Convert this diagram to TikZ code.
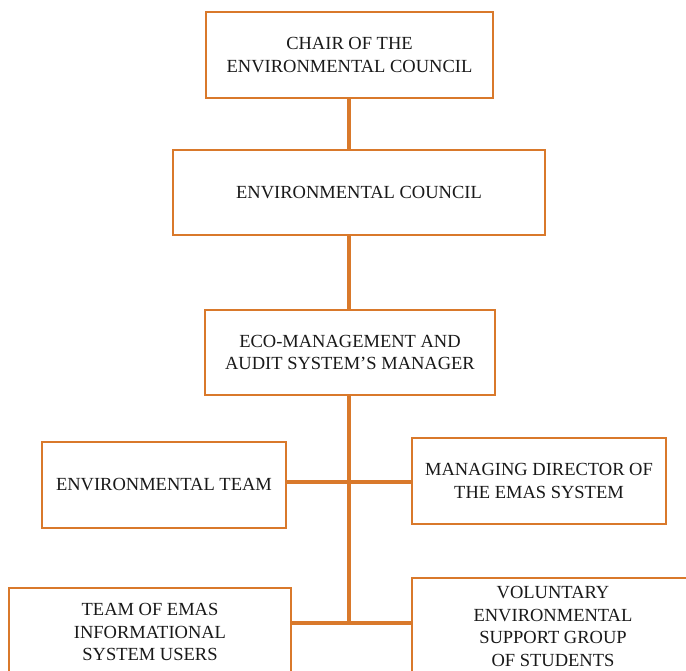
\documentclass[tikz,border=0pt]{standalone}
\usepackage{fontspec}
\setmainfont{Liberation Serif}
\definecolor{org}{HTML}{D9792B}
\begin{document}
\begin{tikzpicture}[x=1pt,y=-1pt,
  box/.style={draw=org,line width=1.6pt,fill=white,align=center,inner sep=0pt,
    font=\fontsize{18.5}{22.5}\selectfont,text=black!90},
  link/.style={draw=org,line width=3.2pt}]
\useasboundingbox (0,0) rectangle (686,670);
\clip (0,0) rectangle (686,670);
\coordinate (j1) at (349,482);
\coordinate (j2) at (349,623);
\node[box,minimum width=287pt,minimum height=86pt] (chair) at (349.5,55) {CHAIR OF THE\\ENVIRONMENTAL COUNCIL};
\node[box,minimum width=372pt,minimum height=85pt] (council) at (359,192.5) {ENVIRONMENTAL COUNCIL};
\node[box,minimum width=290pt,minimum height=85pt] (manager) at (350,352.5) {ECO-MANAGEMENT AND\\AUDIT SYSTEM’S MANAGER};
\node[box,minimum width=244pt,minimum height=86pt] (team) at (164,485) {ENVIRONMENTAL TEAM};
\node[box,minimum width=254pt,minimum height=86pt] (director) at (539,481) {MANAGING DIRECTOR OF\\THE EMAS SYSTEM};
\node[box,minimum width=282pt,minimum height=88pt] (users) at (150,632) {TEAM OF EMAS\\INFORMATIONAL\\SYSTEM USERS};
\node[box,minimum width=282pt,minimum height=97pt] (voluntary) at (553,626.5) {VOLUNTARY\\ENVIRONMENTAL\\SUPPORT GROUP\\OF STUDENTS};
\draw[link] (chair.south -| j1) -- (council.north -| j1);
\draw[link] (council.south -| j1) -- (manager.north -| j1);
\draw[link] (manager.south -| j1) -- (j2);
\draw[link] (j1 -| team.east) -- (j1 -| director.west);
\draw[link] (j2 -| users.east) -- (j2 -| voluntary.west);
\end{tikzpicture}
\end{document}
